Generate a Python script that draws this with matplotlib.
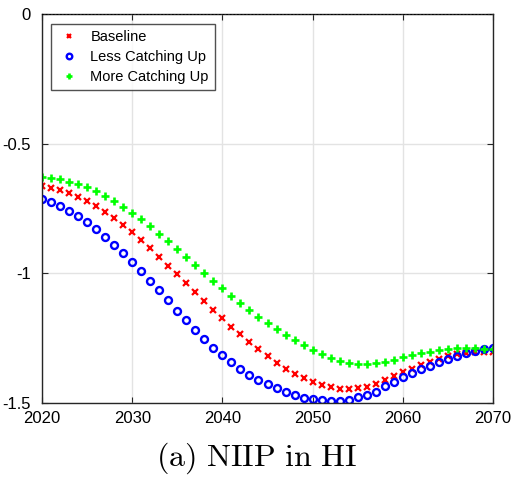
import numpy as np
import matplotlib.pyplot as plt

plt.rcParams['mathtext.fontset'] = 'cm'

years = np.arange(2020, 2071)

baseline = [-0.662, -0.670, -0.679, -0.692, -0.705, -0.722, -0.740, -0.764, -0.788, -0.815,
            -0.842, -0.872, -0.904, -0.936, -0.970, -1.003, -1.039, -1.073, -1.107, -1.142,
            -1.174, -1.206, -1.235, -1.264, -1.293, -1.320, -1.345, -1.368, -1.388, -1.405,
            -1.418, -1.431, -1.440, -1.445, -1.446, -1.442, -1.437, -1.427, -1.412, -1.396,
            -1.382, -1.368, -1.354, -1.341, -1.329, -1.319, -1.311, -1.306, -1.304, -1.302,
            -1.304]

less_catch = [-0.715, -0.726, -0.740, -0.759, -0.779, -0.802, -0.828, -0.859, -0.891, -0.923,
              -0.955, -0.991, -1.029, -1.066, -1.104, -1.144, -1.181, -1.218, -1.252, -1.287,
              -1.315, -1.343, -1.369, -1.392, -1.411, -1.428, -1.444, -1.458, -1.471, -1.480,
              -1.485, -1.490, -1.492, -1.492, -1.489, -1.478, -1.469, -1.457, -1.436, -1.419,
              -1.401, -1.386, -1.370, -1.357, -1.343, -1.330, -1.318, -1.309, -1.300, -1.293,
              -1.287]

more_catch = [-0.627, -0.632, -0.638, -0.647, -0.656, -0.668, -0.684, -0.701, -0.721, -0.743,
              -0.766, -0.792, -0.819, -0.847, -0.876, -0.907, -0.936, -0.968, -0.998, -1.028,
              -1.058, -1.088, -1.116, -1.142, -1.167, -1.190, -1.215, -1.238, -1.257, -1.278,
              -1.296, -1.311, -1.325, -1.337, -1.345, -1.349, -1.349, -1.345, -1.341, -1.334,
              -1.323, -1.315, -1.309, -1.302, -1.296, -1.291, -1.287, -1.287, -1.289, -1.291,
              -1.291]

fig = plt.figure(figsize=(5.12, 4.86), dpi=100)
ax = fig.add_axes([42/512, 1 - 403/486, 451/512, 389/486])

ax.plot(years, baseline, 'x', color='red', ms=3.8, mew=1.6, label='Baseline')
ax.plot(years, less_catch, 'o', color='blue', mfc='none', ms=5, mew=1.7, label='Less Catching Up')
ax.plot(years, more_catch, '+', color='#00ff00', ms=5.5, mew=1.9, label='More Catching Up')
ax.axhline(0, color='black', ls=(0, (1, 1)), lw=1.3, zorder=5)

ax.set_xlim(2020, 2070)
ax.set_ylim(-1.5, 0)
ax.set_xticks([2020, 2030, 2040, 2050, 2060, 2070])
ax.set_yticks([-1.5, -1, -0.5, 0])
ax.set_yticklabels(['-1.5', '-1', '-0.5', '0'])
ax.grid(True, color='#e3e3e3', lw=1)
ax.set_axisbelow(True)
ax.tick_params(direction='in', top=True, right=True, labelsize=12, colors='#262626',
               labelcolor='black', length=4)
ax.tick_params(axis='x', pad=6)
ax.tick_params(axis='y', pad=8)
for lab in ax.get_xticklabels() + ax.get_yticklabels():
    lab.set_family('Liberation Sans')
for s in ax.spines.values():
    s.set_color('#262626')
    s.set_linewidth(1)

leg = ax.legend(loc='upper left', bbox_to_anchor=(0.02, 0.974), borderaxespad=0,
                fancybox=False, edgecolor='#262626', handletextpad=0.7, handlelength=1.6,
                borderpad=0.4, labelspacing=0.42, markerscale=0.8,
                prop={'family': 'Liberation Sans', 'size': 10.5})
leg.get_frame().set_linewidth(1)

fig.text(0.5, 1 - 458/486, r'$\mathrm{(a)\ NIIP\ in\ HI}$', ha='center', va='center', fontsize=23)

fig.savefig('out.png', dpi=100)
